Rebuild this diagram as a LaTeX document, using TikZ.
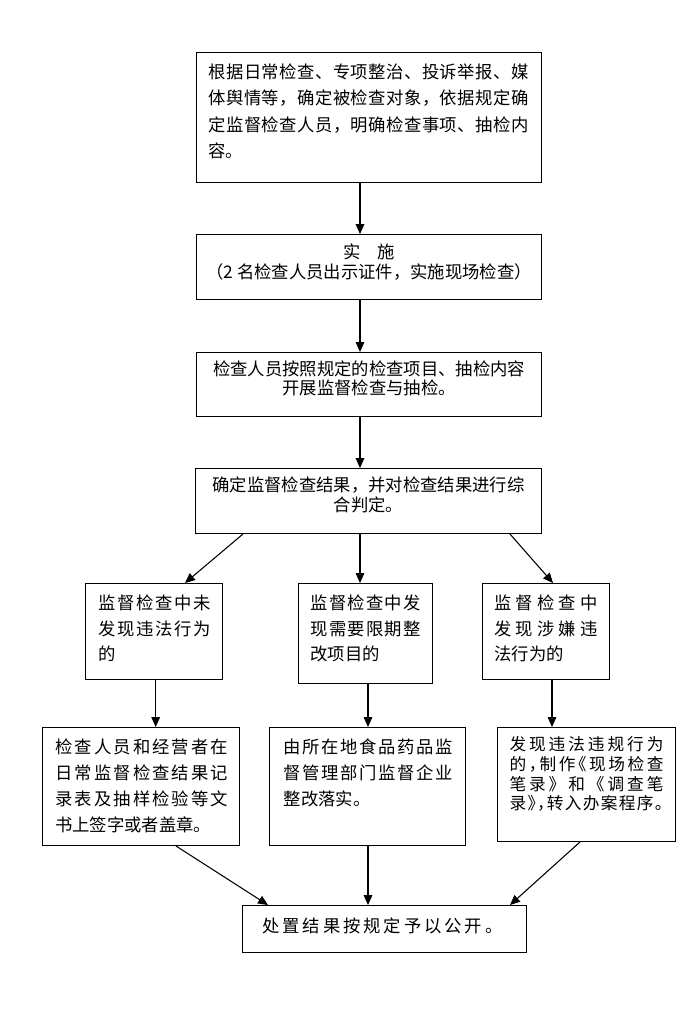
\documentclass[tikz,border=0pt]{standalone}
\usepackage{fontspec}
\newfontfamily\cjk{Noto Sans CJK SC}
\usetikzlibrary{arrows.meta,calc}
\newdimen\pxu \pxu=0.75pt
\def\ChSp#1{#1\ChSpNext}
\def\ChSpNext#1{\ifx\relax#1\else\hfil#1\expandafter\ChSpNext\fi}
\newcommand\st{\leavevmode\vrule height .9em depth .15em width 0pt\relax}
\newcommand\JL[2]{\st\makebox[#1\pxu][s]{\ChSp#2\relax}\par}
\newcommand\NL[1]{\st#1\par}
\newcommand\CL[1]{\st\makebox[\linewidth]{#1}\par}
\newcommand\hwl[1]{\makebox[.5em][l]{#1}}
\newcommand\hwr[1]{\makebox[.5em][r]{#1}}
% width, height, first baseline, line spacing, left pad (all px), content
\newcommand\bx[6]{\parbox[c][#2\pxu][t]{#1\pxu}{\setlength\parindent{0pt}\setlength\leftskip{#5\pxu}\setlength\baselineskip{#4\pxu}\vspace*{\dimexpr#3\pxu-.9em\relax}#6}}
\tikzset{
  flowbox/.style={draw, line width=0.75pt, inner sep=0pt, anchor=north west,
    font=\cjk\fontsize{13pt}{16pt}\selectfont},
  smallfont/.style={font=\cjk\fontsize{12.5pt}{15pt}\selectfont},
  flowarrow/.style={-{Triangle[length=7.5pt,width=6.5pt]}, line width=0.8pt}
}
\begin{document}
\begin{tikzpicture}[x=0.75pt,y=-0.75pt]
\useasboundingbox (0,0) rectangle (690,1014);
\node[flowbox] (b1) at (196,52) {\bx{345}{130}{26}{26.4}{12}{%
  \JL{320}{根据日常检查、专项整治、投诉举报、媒}%
  \JL{320}{体舆情等，确定被检查对象，依据规定确}%
  \JL{320}{定监督检查人员，明确检查事项、抽检内}%
  \NL{容。}}};
\node[flowbox] (b2) at (196,234) {\bx{345}{65}{24.3}{20}{0}{%
  \CL{实\hspace{1em}施}%
  \CL{（2 名检查人员出示证件，实施现场检查）}}};
\node[flowbox] (b3) at (196,352) {\bx{345}{64}{23.2}{18.4}{0}{%
  \CL{检查人员按照规定的检查项目、抽检内容}%
  \CL{开展监督检查与抽检。}}};
\node[flowbox] (b4) at (195,468) {\bx{346}{65}{23.3}{20}{0}{%
  \CL{确定监督检查结果，并对检查结果进行综}%
  \CL{合判定。}}};
\node[flowbox] (b5) at (85,583) {\bx{137}{96}{26}{25.5}{13}{%
  \JL{112}{监督检查中未}%
  \JL{112}{发现违法行为}%
  \NL{的}}};
\node[flowbox] (b6) at (298,583) {\bx{134}{100}{26}{25.5}{12}{%
  \JL{110}{监督检查中发}%
  \JL{110}{现需要限期整}%
  \NL{改项目的}}};
\node[flowbox] (b7) at (482,583) {\bx{127}{96}{26}{25.5}{12}{%
  \JL{103}{监督检查中}%
  \JL{103}{发现涉嫌违}%
  \NL{法行为的}}};
\node[flowbox] (b8) at (42,727) {\bx{197}{118}{26}{26.1}{12.7}{%
  \JL{173}{检查人员和经营者在}%
  \JL{173}{日常监督检查结果记}%
  \JL{173}{录表及抽样检验等文}%
  \NL{书上签字或者盖章。}}};
\node[flowbox] (b9) at (269,727) {\bx{196}{118}{26}{26.1}{14.3}{%
  \JL{169}{由所在地食品药品监}%
  \JL{169}{督管理部门监督企业}%
  \NL{整改落实。}}};
\node[flowbox,smallfont] (b10) at (497,727) {\bx{178}{114}{23}{19.8}{12}{%
  \JL{154}{发现违法违规行为}%
  \JL{154}{的{\hwl{，}}制作{\hwr{《}}现场检查}%
  \JL{154}{笔录》和《调查笔}%
  \JL{162}{录{\hwl{》}}{\hwl{，}}转入办案程序。}}};
\node[flowbox] (b11) at (242,905) {\bx{284}{47}{26.6}{20}{20}{%
  \JL{240}{处置结果按规定予以公开。}}};
% connectors
\draw[flowarrow] ($(b1.south west)+(164,0)$) -- ($(b2.north west)+(164,0)$);
\draw[flowarrow] ($(b2.south west)+(164,0)$) -- ($(b3.north west)+(164,0)$);
\draw[flowarrow] ($(b3.south west)+(164,0)$) -- ($(b4.north west)+(165,0)$);
\draw[flowarrow] ($(b4.south west)+(48,0)$) -- ($(b5.north west)+(100,0)$);
\draw[flowarrow] ($(b4.south west)+(165,0)$) -- ($(b6.north west)+(62,0)$);
\draw[flowarrow] ($(b4.south west)+(315,0)$) -- ($(b7.north west)+(71,0)$);
\draw[flowarrow] ($(b5.south west)+(70.7,0)$) -- ($(b8.north west)+(113.7,0)$);
\draw[flowarrow] ($(b6.south west)+(70,0)$) -- ($(b9.north west)+(99,0)$);
\draw[flowarrow] ($(b7.south west)+(70,0)$) -- ($(b10.north west)+(55,0)$);
\draw[flowarrow] ($(b8.south west)+(134,0)$) -- ($(b11.north west)+(26,0)$);
\draw[flowarrow] ($(b9.south west)+(99,0)$) -- ($(b11.north west)+(126,0)$);
\draw[flowarrow] ($(b10.south west)+(83,0)$) -- ($(b11.north west)+(268,0)$);
\end{tikzpicture}
\end{document}
